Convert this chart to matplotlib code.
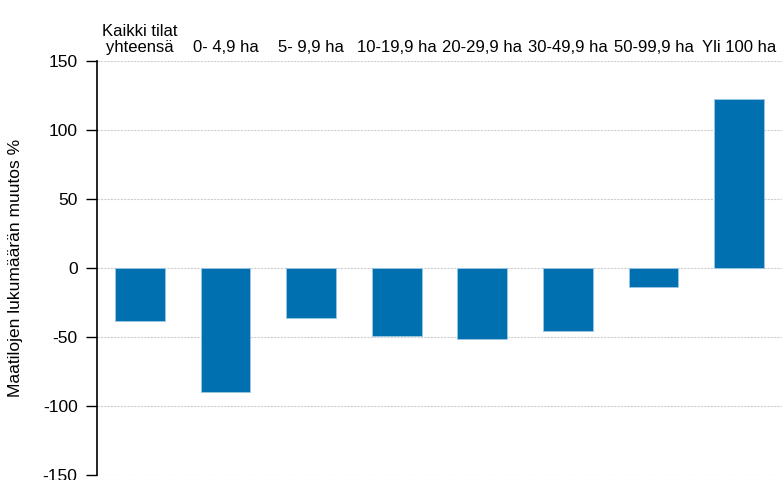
import matplotlib.pyplot as plt

plt.rcParams['font.family'] = ['Liberation Sans', 'DejaVu Sans']
plt.rcParams['axes.unicode_minus'] = False

# Categories (size classes) and change in number of farms, %
categories = ['Kaikki tilat\nyhteensä', '0- 4,9 ha', '5- 9,9 ha', '10-19,9 ha',
              '20-29,9 ha', '30-49,9 ha', '50-99,9 ha', 'Yli 100 ha']
change_pct = [-38.5, -89.5, -36.5, -49, -51.5, -45.5, -13.5, 122.5]
y_ticks = [-150, -100, -50, 0, 50, 100, 150]

fig = plt.figure(figsize=(7.82, 4.8), dpi=100)
ax = fig.add_axes([0.124, 0.0104, 0.876, 0.8625])

x = range(len(categories))
ax.bar(x, change_pct, width=0.58, color='#0070B0', edgecolor='#9cc8e4', linewidth=0.6, zorder=3)

ax.set_xlim(-0.5, len(categories) - 0.5)
ax.set_ylim(-150, 150)
ax.set_yticks(y_ticks)
ax.tick_params(axis='y', labelsize=12.5, length=8, width=1, color='black', pad=6)

# category labels on top
ax.xaxis.tick_top()
ax.set_xticks(list(x))
ax.set_xticklabels(categories, fontsize=12, linespacing=1.1)
ax.tick_params(axis='x', length=0, pad=4)

ax.set_ylabel('Maatilojen lukumäärän muutos %', fontsize=12.5, labelpad=14)

for s in ['top', 'right', 'bottom']:
    ax.spines[s].set_visible(False)
ax.spines['left'].set_linewidth(1.2)

ax.yaxis.grid(True, color='#cfcfcf', linestyle=(0, (2, 1)), linewidth=0.8, zorder=0)

fig.savefig('out.png', dpi=100)
